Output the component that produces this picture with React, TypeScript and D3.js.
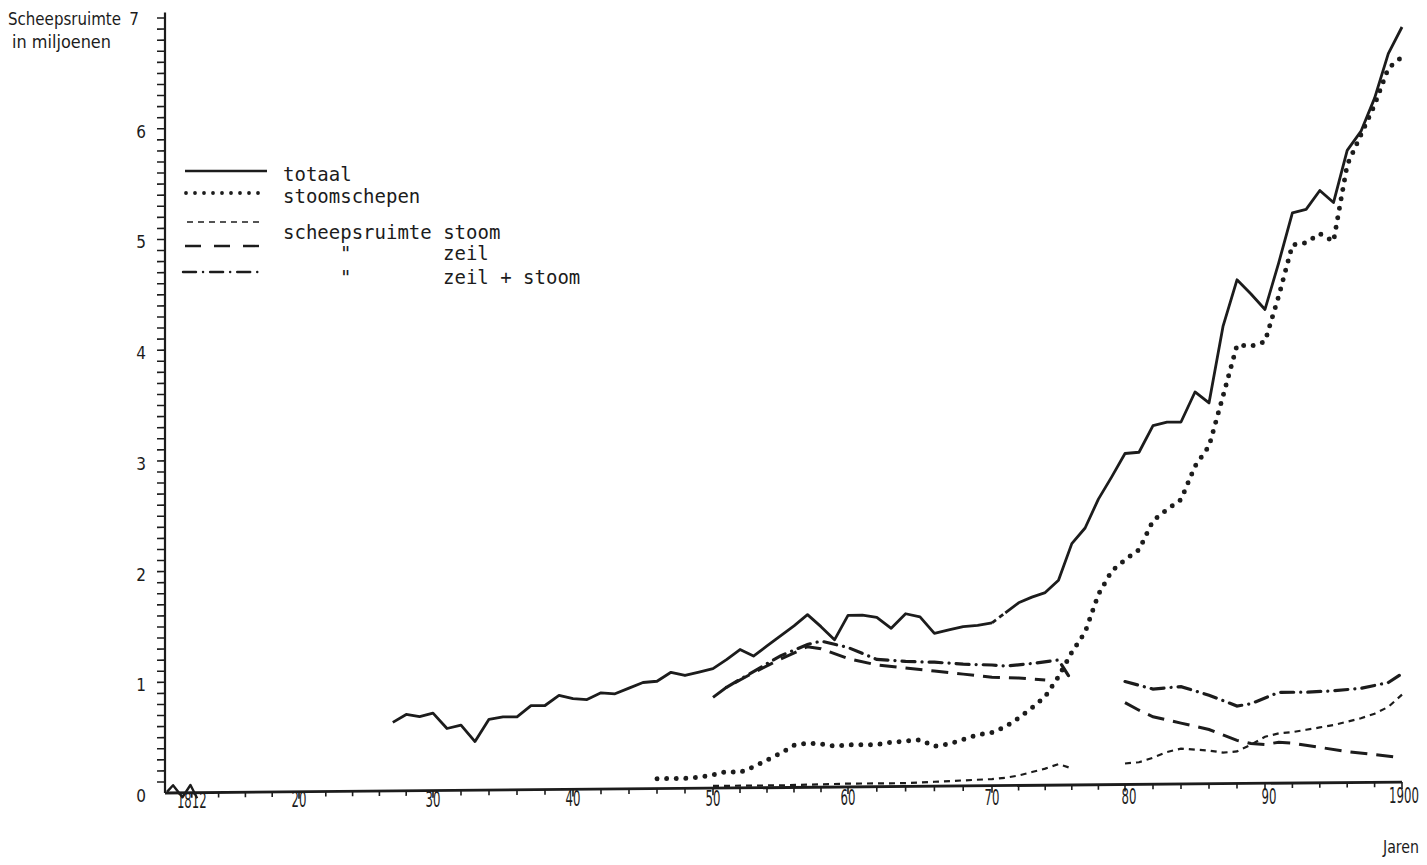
import React from 'react';
import * as d3 from 'd3';

const W = 1427;
const H = 865;

// ---------- data ----------
const decadeYears = [1810, 1820, 1830, 1840, 1850, 1860, 1870, 1880, 1890, 1900];
const xLabelYears = [1812, 1820, 1830, 1840, 1850, 1860, 1870, 1880, 1890, 1900];
const xLabels = ['1812', '20', '30', '40', '50', '60', '70', '80', '90', '1900'];
const yLabels = [0, 1, 2, 3, 4, 5, 6, 7];

const totaalJaren = d3.range(1827, 1901);
const totaalWaarden = [
  0.62, 0.69, 0.67, 0.70, 0.56, 0.59, 0.44, 0.64, 0.66, 0.66, // 1827-1836
  0.76, 0.76, 0.85, 0.82, 0.81, 0.87, 0.86, 0.91, 0.96, 0.97, // 1837-1846
  1.05, 1.02, 1.05, 1.08, 1.16, 1.25, 1.19, 1.28, 1.37, 1.46, // 1847-1856
  1.56, 1.45, 1.33, 1.55, 1.55, 1.53, 1.43, 1.56, 1.53, 1.38, // 1857-1866
  1.41, 1.44, 1.45, 1.47, 1.56, 1.65, 1.70, 1.74, 1.85, 2.18, // 1867-1876
  2.32, 2.58, 2.78, 2.99, 3.00, 3.24, 3.27, 3.27, 3.54, 3.44, // 1877-1886
  4.13, 4.55, 4.42, 4.28, 4.70, 5.15, 5.18, 5.35, 5.24, 5.71, // 1887-1896
  5.88, 6.18, 6.58, 6.82, // 1897-1900
];

const stoomschepenJaren = d3.range(1846, 1901);
const stoomschepenWaarden = [
  0.09, 0.09, 0.09, 0.10, 0.12, 0.15, 0.14, 0.19, 0.25, 0.31, // 1846-1855
  0.38, 0.40, 0.39, 0.37, 0.38, 0.38, 0.38, 0.40, 0.41, 0.42, // 1856-1865
  0.36, 0.38, 0.42, 0.46, 0.48, 0.53, 0.61, 0.70, 0.80, 0.98, // 1866-1875
  1.20, 1.38, 1.72, 1.93, 2.03, 2.12, 2.38, 2.48, 2.57, 2.87, // 1876-1885
  3.05, 3.50, 3.96, 3.95, 3.99, 4.40, 4.86, 4.88, 4.96, 4.89, // 1886-1895
  5.58, 5.85, 6.12, 6.45, 6.55, // 1896-1900
];

// null = break in the series
const ruimteStoomJaren = [1850, 1855, 1860, 1864, 1866, 1868, 1870, 1871, 1872, 1873, 1874, 1875, 1876, 1878,
  1880, 1881, 1882, 1883, 1884, 1885, 1886, 1887, 1888, 1889, 1890, 1891, 1892, 1893, 1894, 1895, 1896, 1897, 1898, 1899, 1900];
const ruimteStoomWaarden = [0.02, 0.02, 0.03, 0.03, 0.04, 0.05, 0.06, 0.07, 0.09, 0.12, 0.15, 0.19, 0.15, null,
  0.19, 0.20, 0.24, 0.29, 0.32, 0.31, 0.30, 0.28, 0.29, 0.35, 0.42, 0.45, 0.46, 0.48, 0.50, 0.52, 0.55, 0.58, 0.62, 0.68, 0.79];

const ruimteZeilJaren = [1850, 1851, 1853, 1855, 1857, 1858, 1860, 1862, 1864, 1866, 1868, 1870, 1872, 1874, 1877,
  1880, 1881, 1882, 1884, 1886, 1888, 1889, 1890, 1891, 1892, 1894, 1896, 1898, 1900];
const ruimteZeilWaarden = [0.82, 0.91, 1.04, 1.16, 1.27, 1.25, 1.16, 1.10, 1.07, 1.04, 1.01, 0.98, 0.97, 0.95, null,
  0.74, 0.67, 0.61, 0.55, 0.49, 0.39, 0.36, 0.35, 0.37, 0.36, 0.32, 0.28, 0.25, 0.22];

const ruimteZeilStoomJaren = [1851, 1853, 1855, 1857, 1858, 1860, 1862, 1864, 1866, 1868, 1870, 1871, 1873, 1875, 1876, 1878,
  1880, 1882, 1884, 1886, 1888, 1889, 1891, 1893, 1895, 1897, 1899, 1900];
const ruimteZeilStoomWaarden = [0.91, 1.05, 1.19, 1.29, 1.32, 1.26, 1.15, 1.13, 1.12, 1.10, 1.09, 1.08, 1.10, 1.13, 0.94, null,
  0.93, 0.86, 0.88, 0.80, 0.70, 0.72, 0.82, 0.82, 0.83, 0.85, 0.90, 0.98];

// small zig-zag mark at the origin (1810-1812)
const breukJaren = [1810.15, 1810.6, 1811.3, 1811.9, 1812.4];
const breukWaarden = [0.01, 0.07, -0.04, 0.07, -0.05];

const legendItems = ['totaal', 'stoomschepen', 'scheepsruimte stoom', 'zeil', 'zeil + stoom'];

// ---------- scales ----------
const xScale = d3.scaleLinear().domain(decadeYears).range([165, 299, 433, 573, 713, 848, 992, 1125, 1265, 1402]);
const yScale = d3.scaleLinear().domain([0, 7]).range([793, 18]);
const X0 = xScale(1810);

type P = { j: number; v: number | null };
const pts = (js: number[], vs: (number | null)[]): P[] => js.map((j, i) => ({ j, v: vs[i] }));
const lineGen = d3
  .line<P>()
  .defined((d) => d.v != null)
  .x((d) => xScale(d.j))
  .y((d) => yScale(d.v as number));

const INK = '#1c1c1c';

export default function App() {
  const totaal = pts(totaalJaren, totaalWaarden);
  const totaalA = totaal.filter((d) => d.j <= 1870);
  const totaalB = totaal.filter((d) => d.j >= 1870 && d.j <= 1871);
  const totaalC = totaal.filter((d) => d.j >= 1871);
  const stoomschepen = pts(stoomschepenJaren, stoomschepenWaarden);
  const rStoom = pts(ruimteStoomJaren, ruimteStoomWaarden);
  const rZeil = pts(ruimteZeilJaren, ruimteZeilWaarden);
  const rZS = pts(ruimteZeilStoomJaren, ruimteZeilStoomWaarden);
  const breuk = pts(breukJaren, breukWaarden);

  const xMinor = d3.range(1812, 1901, 2);
  const yMinor = d3.range(1, 71).map((i) => i / 10);
  const skew = `translate(${X0},0) skewY(-0.506) translate(${-X0},0)`;

  const sansC = "'DejaVu Sans Condensed', 'DejaVu Sans', sans-serif";
  const mono = "'DejaVu Sans Mono', 'Liberation Mono', monospace";

  return (
    <svg
      width={W}
      height={H}
      viewBox={`0 0 ${W} ${H}`}
      style={{ position: 'absolute', left: 0, top: 0, background: '#fff', display: 'block' }}
    >
      <rect x={0} y={0} width={W} height={H} fill="#fff" />

      {/* axis title */}
      <text x={8} y={25} fontFamily={sansC} fontSize={18} fill={INK} textLength={113} lengthAdjust="spacingAndGlyphs">
        Scheepsruimte
      </text>
      <text x={12} y={48} fontFamily={sansC} fontSize={17} fill={INK} textLength={99} lengthAdjust="spacingAndGlyphs">
        in  miljoenen
      </text>

      {/* y labels */}
      {yLabels.map((v) => (
        <text
          key={v}
          x={v === 7 ? 139 : 146}
          y={yScale(v) + 6 + (v === 7 ? 1 : 3)}
          textAnchor="end"
          fontFamily={sansC}
          fontSize={17}
          fill={INK}
        >
          {v}
        </text>
      ))}

      {/* x labels (narrow plotter digits) */}
      {xLabelYears.map((j, i) => {
        const x = Math.min(xScale(j) + (j >= 1880 ? 4 : 0), 1404);
        const y = 808 - (x - 165) * 0.004;
        return (
          <g key={j} transform={`translate(${x},${y}) scale(0.62,1)`}>
            <text x={0} y={0} textAnchor="middle" fontFamily={sansC} fontSize={21} fill={INK}>
              {xLabels[i]}
            </text>
          </g>
        );
      })}
      <text x={1401} y={853} textAnchor="middle" fontFamily={sansC} fontSize={17} fill={INK} textLength={36} lengthAdjust="spacingAndGlyphs">
        Jaren
      </text>

      <g transform={skew}>
        {/* axes */}
        <line x1={X0} x2={X0} y1={yScale(7.05)} y2={yScale(0)} stroke={INK} strokeWidth={2.2} />
        <line x1={X0} x2={xScale(1900)} y1={yScale(0)} y2={yScale(0)} stroke={INK} strokeWidth={2.8} />
        {yMinor.map((v) => (
          <line key={v} x1={X0 - 8} x2={X0} y1={yScale(v)} y2={yScale(v)} stroke={INK} strokeWidth={1.6} />
        ))}
        {xMinor.map((j) => (
          <line
            key={j}
            x1={xScale(j)}
            x2={xScale(j)}
            y1={yScale(0)}
            y2={yScale(0) + (j % 10 === 0 ? 7 : 5)}
            stroke={INK}
            strokeWidth={1.6}
          />
        ))}

        {/* series */}
        <path d={lineGen(breuk) || ''} fill="none" stroke={INK} strokeWidth={2.4} strokeLinejoin="round" />
        <path d={lineGen(totaalA) || ''} fill="none" stroke={INK} strokeWidth={2.8} strokeLinejoin="round" />
        <path d={lineGen(totaalB) || ''} fill="none" stroke={INK} strokeWidth={2.8} strokeDasharray="5 4" />
        <path d={lineGen(totaalC) || ''} fill="none" stroke={INK} strokeWidth={2.8} strokeLinejoin="round" />
        <path
          d={lineGen(stoomschepen) || ''}
          fill="none"
          stroke={INK}
          strokeWidth={5}
          strokeLinecap="round"
          strokeDasharray="0 9.6"
        />
        <path d={lineGen(rStoom) || ''} fill="none" stroke={INK} strokeWidth={2.2} strokeDasharray="6 5" />
        <path d={lineGen(rZeil) || ''} fill="none" stroke={INK} strokeWidth={3} strokeDasharray="17 9" />
        <path
          d={lineGen(rZS) || ''}
          fill="none"
          stroke={INK}
          strokeWidth={3.2}
          strokeLinecap="round"
          strokeDasharray="13 7 0.1 7"
        />
      </g>

      {/* legend */}
      <g>
        <line x1={185} x2={267} y1={171} y2={171} stroke={INK} strokeWidth={2.4} />
        <line x1={186} x2={267} y1={193} y2={193} stroke={INK} strokeWidth={3.8} strokeLinecap="round" strokeDasharray="0 9" />
        <line x1={187} x2={259} y1={222} y2={222} stroke={INK} strokeWidth={1.6} strokeDasharray="6 5" />
        <line x1={185} x2={261} y1={246} y2={246} stroke={INK} strokeWidth={2.4} strokeDasharray="16 13" />
        <line x1={183} x2={262} y1={272} y2={272} stroke={INK} strokeWidth={2.4} strokeLinecap="round" strokeDasharray="13 7 0.1 7" />

        <text x={283} y={181} fontFamily={mono} fontSize={19} fill={INK}>{legendItems[0]}</text>
        <text x={283} y={203} fontFamily={mono} fontSize={19} fill={INK}>{legendItems[1]}</text>
        <text x={283} y={239} fontFamily={mono} fontSize={19} fill={INK}>{legendItems[2]}</text>
        <text x={340} y={260} fontFamily={mono} fontSize={19} fill={INK}>"</text>
        <text x={443} y={260} fontFamily={mono} fontSize={19} fill={INK}>{legendItems[3]}</text>
        <text x={340} y={284} fontFamily={mono} fontSize={19} fill={INK}>"</text>
        <text x={443} y={284} fontFamily={mono} fontSize={19} fill={INK}>{legendItems[4]}</text>
      </g>
    </svg>
  );
}
